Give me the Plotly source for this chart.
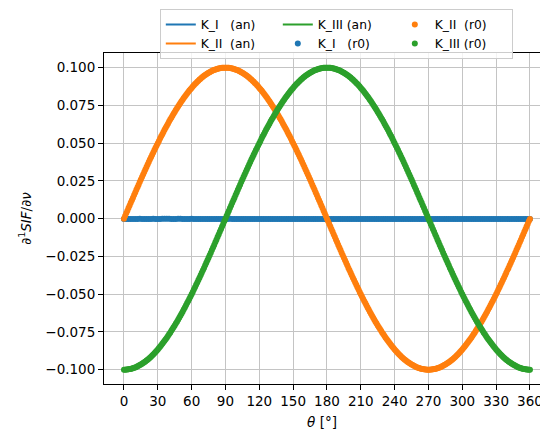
import plotly.graph_objects as go

# angle grid of the r0 points (1 degree) and of the flat K_I series (2 degrees)
theta = list(range(0, 361))
theta_KI = list(range(0, 361, 2))

K_I_r0 = [
    -0.0002, -0.0003, -0.0002, -0.0002, -0.0003, -0.0002, -0.0002, -0.0001, -0.0002, -0.0002,
    -0.0003, -0.0002, -0.0002, -0.0001, -0.0002, -0.0002, -0.0002, -0.0001, -0.0001, -0.0001,
    -0.0001, -0.0002, -0.0002, -0.0002, -0.0001, -0.0001, -0.0002, -0.0002, -0.0002, -0.0002,
    -0.0001, -0.0002, -0.0002, -0.0002, -0.0002, -0.0003, -0.0002, -0.0002, -0.0002, -0.0002,
    -0.0002, -0.0002, -0.0002, -0.0002, -0.0002, -0.0002, -0.0002, -0.0001, -0.0002, -0.0002,
    -0.0002, -0.0002, -0.0003, -0.0002, -0.0002, -0.0002, -0.0002, -0.0002, -0.0002, -0.0002,
    -0.0002, -0.0002, -0.0002, -0.0002, -0.0003, -0.0002, -0.0002, -0.0002, -0.0002, -0.0002,
    -0.0002, -0.0002, -0.0002, -0.0002, -0.0002, -0.0002, -0.0002, -0.0002, -0.0002, -0.0002,
    -0.0002, -0.0002, -0.0002, -0.0002, -0.0002, -0.0002, -0.0002, -0.0003, -0.0002, -0.0002,
    -0.0002, -0.0002, -0.0002, -0.0002, -0.0002, -0.0002, -0.0002, -0.0002, -0.0002, -0.0002,
    -0.0002, -0.0002, -0.0002, -0.0002, -0.0002, -0.0002, -0.0002, -0.0002, -0.0002, -0.0002,
    -0.0002, -0.0002, -0.0002, -0.0002, -0.0002, -0.0002, -0.0002, -0.0002, -0.0003, -0.0002,
    -0.0002, -0.0002, -0.0002, -0.0002, -0.0002, -0.0002, -0.0002, -0.0002, -0.0002, -0.0002,
    -0.0002, -0.0002, -0.0002, -0.0002, -0.0002, -0.0002, -0.0002, -0.0002, -0.0002, -0.0002,
    -0.0002, -0.0003, -0.0002, -0.0002, -0.0002, -0.0002, -0.0002, -0.0002, -0.0002, -0.0002,
    -0.0002, -0.0002, -0.0002, -0.0003, -0.0002, -0.0002, -0.0002, -0.0002, -0.0002, -0.0002,
    -0.0003, -0.0002, -0.0002, -0.0002, -0.0002, -0.0003, -0.0002, -0.0002, -0.0002, -0.0002,
    -0.0002, -0.0003, -0.0003, -0.0002, -0.0002, -0.0002, -0.0003, -0.0002, -0.0002, -0.0002,
    -0.0002,
]

K_II_r0 = [
    0.0000,
    # 1..90
    0.0017, 0.0035, 0.0052, 0.0070, 0.0087, 0.0105, 0.0122, 0.0139, 0.0156, 0.0174,
    0.0191, 0.0208, 0.0225, 0.0242, 0.0259, 0.0276, 0.0292, 0.0309, 0.0326, 0.0342,
    0.0358, 0.0375, 0.0391, 0.0407, 0.0423, 0.0438, 0.0454, 0.0469, 0.0485, 0.0500,
    0.0515, 0.0530, 0.0545, 0.0559, 0.0574, 0.0588, 0.0602, 0.0616, 0.0629, 0.0643,
    0.0656, 0.0669, 0.0682, 0.0695, 0.0707, 0.0719, 0.0731, 0.0743, 0.0755, 0.0766,
    0.0777, 0.0788, 0.0799, 0.0809, 0.0819, 0.0829, 0.0839, 0.0848, 0.0857, 0.0866,
    0.0875, 0.0883, 0.0891, 0.0899, 0.0906, 0.0914, 0.0921, 0.0927, 0.0934, 0.0940,
    0.0946, 0.0951, 0.0956, 0.0961, 0.0966, 0.0970, 0.0974, 0.0978, 0.0982, 0.0985,
    0.0988, 0.0990, 0.0993, 0.0995, 0.0996, 0.0998, 0.0999, 0.0999, 0.1000, 0.1000,
    # 91..180
    0.1000, 0.0999, 0.0999, 0.0998, 0.0996, 0.0995, 0.0993, 0.0990, 0.0988, 0.0985,
    0.0982, 0.0978, 0.0974, 0.0970, 0.0966, 0.0961, 0.0956, 0.0951, 0.0946, 0.0940,
    0.0934, 0.0927, 0.0921, 0.0914, 0.0906, 0.0899, 0.0891, 0.0883, 0.0875, 0.0866,
    0.0857, 0.0848, 0.0839, 0.0829, 0.0819, 0.0809, 0.0799, 0.0788, 0.0777, 0.0766,
    0.0755, 0.0743, 0.0731, 0.0719, 0.0707, 0.0695, 0.0682, 0.0669, 0.0656, 0.0643,
    0.0629, 0.0616, 0.0602, 0.0588, 0.0574, 0.0559, 0.0545, 0.0530, 0.0515, 0.0500,
    0.0485, 0.0469, 0.0454, 0.0438, 0.0423, 0.0407, 0.0391, 0.0375, 0.0358, 0.0342,
    0.0326, 0.0309, 0.0292, 0.0276, 0.0259, 0.0242, 0.0225, 0.0208, 0.0191, 0.0174,
    0.0156, 0.0139, 0.0122, 0.0105, 0.0087, 0.0070, 0.0052, 0.0035, 0.0017, 0.0000,
    # 181..270
    -0.0017, -0.0035, -0.0052, -0.0070, -0.0087, -0.0105, -0.0122, -0.0139, -0.0156, -0.0174,
    -0.0191, -0.0208, -0.0225, -0.0242, -0.0259, -0.0276, -0.0292, -0.0309, -0.0326, -0.0342,
    -0.0358, -0.0375, -0.0391, -0.0407, -0.0423, -0.0438, -0.0454, -0.0469, -0.0485, -0.0500,
    -0.0515, -0.0530, -0.0545, -0.0559, -0.0574, -0.0588, -0.0602, -0.0616, -0.0629, -0.0643,
    -0.0656, -0.0669, -0.0682, -0.0695, -0.0707, -0.0719, -0.0731, -0.0743, -0.0755, -0.0766,
    -0.0777, -0.0788, -0.0799, -0.0809, -0.0819, -0.0829, -0.0839, -0.0848, -0.0857, -0.0866,
    -0.0875, -0.0883, -0.0891, -0.0899, -0.0906, -0.0914, -0.0921, -0.0927, -0.0934, -0.0940,
    -0.0946, -0.0951, -0.0956, -0.0961, -0.0966, -0.0970, -0.0974, -0.0978, -0.0982, -0.0985,
    -0.0988, -0.0990, -0.0993, -0.0995, -0.0996, -0.0998, -0.0999, -0.0999, -0.1000, -0.1000,
    # 271..360
    -0.1000, -0.0999, -0.0999, -0.0998, -0.0996, -0.0995, -0.0993, -0.0990, -0.0988, -0.0985,
    -0.0982, -0.0978, -0.0974, -0.0970, -0.0966, -0.0961, -0.0956, -0.0951, -0.0946, -0.0940,
    -0.0934, -0.0927, -0.0921, -0.0914, -0.0906, -0.0899, -0.0891, -0.0883, -0.0875, -0.0866,
    -0.0857, -0.0848, -0.0839, -0.0829, -0.0819, -0.0809, -0.0799, -0.0788, -0.0777, -0.0766,
    -0.0755, -0.0743, -0.0731, -0.0719, -0.0707, -0.0695, -0.0682, -0.0669, -0.0656, -0.0643,
    -0.0629, -0.0616, -0.0602, -0.0588, -0.0574, -0.0559, -0.0545, -0.0530, -0.0515, -0.0500,
    -0.0485, -0.0469, -0.0454, -0.0438, -0.0423, -0.0407, -0.0391, -0.0375, -0.0358, -0.0342,
    -0.0326, -0.0309, -0.0292, -0.0276, -0.0259, -0.0242, -0.0225, -0.0208, -0.0191, -0.0174,
    -0.0156, -0.0139, -0.0122, -0.0105, -0.0087, -0.0070, -0.0052, -0.0035, -0.0017, -0.0003,
]

K_III_r0 = [
    -0.1000,
    # 1..90
    -0.1000, -0.0999, -0.0999, -0.0998, -0.0996, -0.0995, -0.0993, -0.0990, -0.0988, -0.0985,
    -0.0982, -0.0978, -0.0974, -0.0970, -0.0966, -0.0961, -0.0956, -0.0951, -0.0946, -0.0940,
    -0.0934, -0.0927, -0.0921, -0.0914, -0.0906, -0.0899, -0.0891, -0.0883, -0.0875, -0.0866,
    -0.0857, -0.0848, -0.0839, -0.0829, -0.0819, -0.0809, -0.0799, -0.0788, -0.0777, -0.0766,
    -0.0755, -0.0743, -0.0731, -0.0719, -0.0707, -0.0695, -0.0682, -0.0669, -0.0656, -0.0643,
    -0.0629, -0.0616, -0.0602, -0.0588, -0.0574, -0.0559, -0.0545, -0.0530, -0.0515, -0.0500,
    -0.0485, -0.0469, -0.0454, -0.0438, -0.0423, -0.0407, -0.0391, -0.0375, -0.0358, -0.0342,
    -0.0326, -0.0309, -0.0292, -0.0276, -0.0259, -0.0242, -0.0225, -0.0208, -0.0191, -0.0174,
    -0.0156, -0.0139, -0.0122, -0.0105, -0.0087, -0.0070, -0.0052, -0.0035, -0.0017, 0.0000,
    # 91..180
    0.0017, 0.0035, 0.0052, 0.0070, 0.0087, 0.0105, 0.0122, 0.0139, 0.0156, 0.0174,
    0.0191, 0.0208, 0.0225, 0.0242, 0.0259, 0.0276, 0.0292, 0.0309, 0.0326, 0.0342,
    0.0358, 0.0375, 0.0391, 0.0407, 0.0423, 0.0438, 0.0454, 0.0469, 0.0485, 0.0500,
    0.0515, 0.0530, 0.0545, 0.0559, 0.0574, 0.0588, 0.0602, 0.0616, 0.0629, 0.0643,
    0.0656, 0.0669, 0.0682, 0.0695, 0.0707, 0.0719, 0.0731, 0.0743, 0.0755, 0.0766,
    0.0777, 0.0788, 0.0799, 0.0809, 0.0819, 0.0829, 0.0839, 0.0848, 0.0857, 0.0866,
    0.0875, 0.0883, 0.0891, 0.0899, 0.0906, 0.0914, 0.0921, 0.0927, 0.0934, 0.0940,
    0.0946, 0.0951, 0.0956, 0.0961, 0.0966, 0.0970, 0.0974, 0.0978, 0.0982, 0.0985,
    0.0988, 0.0990, 0.0993, 0.0995, 0.0996, 0.0998, 0.0999, 0.0999, 0.1000, 0.1000,
    # 181..270
    0.1000, 0.0999, 0.0999, 0.0998, 0.0996, 0.0995, 0.0993, 0.0990, 0.0988, 0.0985,
    0.0982, 0.0978, 0.0974, 0.0970, 0.0966, 0.0961, 0.0956, 0.0951, 0.0946, 0.0940,
    0.0934, 0.0927, 0.0921, 0.0914, 0.0906, 0.0899, 0.0891, 0.0883, 0.0875, 0.0866,
    0.0857, 0.0848, 0.0839, 0.0829, 0.0819, 0.0809, 0.0799, 0.0788, 0.0777, 0.0766,
    0.0755, 0.0743, 0.0731, 0.0719, 0.0707, 0.0695, 0.0682, 0.0669, 0.0656, 0.0643,
    0.0629, 0.0616, 0.0602, 0.0588, 0.0574, 0.0559, 0.0545, 0.0530, 0.0515, 0.0500,
    0.0485, 0.0469, 0.0454, 0.0438, 0.0423, 0.0407, 0.0391, 0.0375, 0.0358, 0.0342,
    0.0326, 0.0309, 0.0292, 0.0276, 0.0259, 0.0242, 0.0225, 0.0208, 0.0191, 0.0174,
    0.0156, 0.0139, 0.0122, 0.0105, 0.0087, 0.0070, 0.0052, 0.0035, 0.0017, 0.0000,
    # 271..360
    -0.0017, -0.0035, -0.0052, -0.0070, -0.0087, -0.0105, -0.0122, -0.0139, -0.0156, -0.0174,
    -0.0191, -0.0208, -0.0225, -0.0242, -0.0259, -0.0276, -0.0292, -0.0309, -0.0326, -0.0342,
    -0.0358, -0.0375, -0.0391, -0.0407, -0.0423, -0.0438, -0.0454, -0.0469, -0.0485, -0.0500,
    -0.0515, -0.0530, -0.0545, -0.0559, -0.0574, -0.0588, -0.0602, -0.0616, -0.0629, -0.0643,
    -0.0656, -0.0669, -0.0682, -0.0695, -0.0707, -0.0719, -0.0731, -0.0743, -0.0755, -0.0766,
    -0.0777, -0.0788, -0.0799, -0.0809, -0.0819, -0.0829, -0.0839, -0.0848, -0.0857, -0.0866,
    -0.0875, -0.0883, -0.0891, -0.0899, -0.0906, -0.0914, -0.0921, -0.0927, -0.0934, -0.0940,
    -0.0946, -0.0951, -0.0956, -0.0961, -0.0966, -0.0970, -0.0974, -0.0978, -0.0982, -0.0985,
    -0.0988, -0.0990, -0.0993, -0.0995, -0.0996, -0.0998, -0.0999, -0.0999, -0.1000, -0.1000,
]

# analytical curves (they coincide with the r0 points in the picture)
K_I_an = [0.0] * len(theta_KI)
K_II_an = K_II_r0
K_III_an = K_III_r0

x_ticks = [0, 30, 60, 90, 120, 150, 180, 210, 240, 270, 300, 330, 360]

BLUE, ORANGE, GREEN = "#1f77b4", "#ff7f0e", "#2ca02c"
NB = "\u00a0"
FONT = "DejaVu Sans"

fig = go.Figure()
fig.add_trace(go.Scatter(x=theta_KI, y=K_I_an, mode="lines", name="K_I" + NB * 3 + "(an)",
                         line=dict(color=BLUE, width=2), legendrank=1))
fig.add_trace(go.Scatter(x=theta, y=K_II_an, mode="lines", name="K_II" + NB * 2 + "(an)",
                         line=dict(color=ORANGE, width=2), legendrank=4))
fig.add_trace(go.Scatter(x=theta, y=K_III_an, mode="lines", name="K_III" + NB + "(an)",
                         line=dict(color=GREEN, width=2), legendrank=2))
fig.add_trace(go.Scatter(x=theta_KI, y=K_I_r0, mode="markers", name="K_I" + NB * 3 + "(r0)",
                         marker=dict(color=BLUE, size=6, line=dict(width=0)), legendrank=5))
fig.add_trace(go.Scatter(x=theta, y=K_II_r0, mode="markers", name="K_II" + NB * 2 + "(r0)",
                         marker=dict(color=ORANGE, size=6, line=dict(width=0)), legendrank=3))
fig.add_trace(go.Scatter(x=theta, y=K_III_r0, mode="markers", name="K_III" + NB + "(r0)",
                         marker=dict(color=GREEN, size=6, line=dict(width=0)), legendrank=6))

axis_common = dict(
    showgrid=True, gridcolor="#c4c4c4", gridwidth=1,
    zeroline=False, showline=True, linecolor="black", linewidth=1,
    ticks="outside", ticklen=5, tickwidth=1, tickcolor="black",
    tickfont=dict(family=FONT, size=13.5, color="black"),
    automargin=False, ticklabeloverflow="allow",
)

fig.update_layout(
    width=540, height=435,
    margin=dict(l=104, r=0, t=53, b=51, autoexpand=False),
    paper_bgcolor="white", plot_bgcolor="white",
    font=dict(family=FONT, size=13.5, color="black"),
    xaxis=dict(
        range=[-17.7, 368.9], tickmode="array", tickvals=x_ticks,
        ticktext=[str(v) for v in x_ticks], mirror=True,
        title=dict(text=NB * 2 + "<i>θ</i> [°]", font=dict(family=FONT, size=13.5), standoff=9),
        **axis_common,
    ),
    yaxis=dict(
        range=[-0.1095, 0.1097], tickmode="linear", tick0=0, dtick=0.025,
        tickformat=".3f", mirror=False,
        title=dict(text="∂<sup>1</sup><i>SIF</i>/∂<i>ν</i>", font=dict(family=FONT, size=13.5), standoff=10),
        **axis_common,
    ),
    showlegend=True,
    legend=dict(
        orientation="h", x=0.128, y=1.133, xanchor="left", yanchor="top",
        font=dict(family=FONT, size=12.3, color="black"),
        bgcolor="rgba(255,255,255,0.8)", bordercolor="#cccccc", borderwidth=1,
        entrywidth=72, entrywidthmode="pixels", itemwidth=30,
        traceorder="normal",
    ),
)

fig.write_html("out.html")
